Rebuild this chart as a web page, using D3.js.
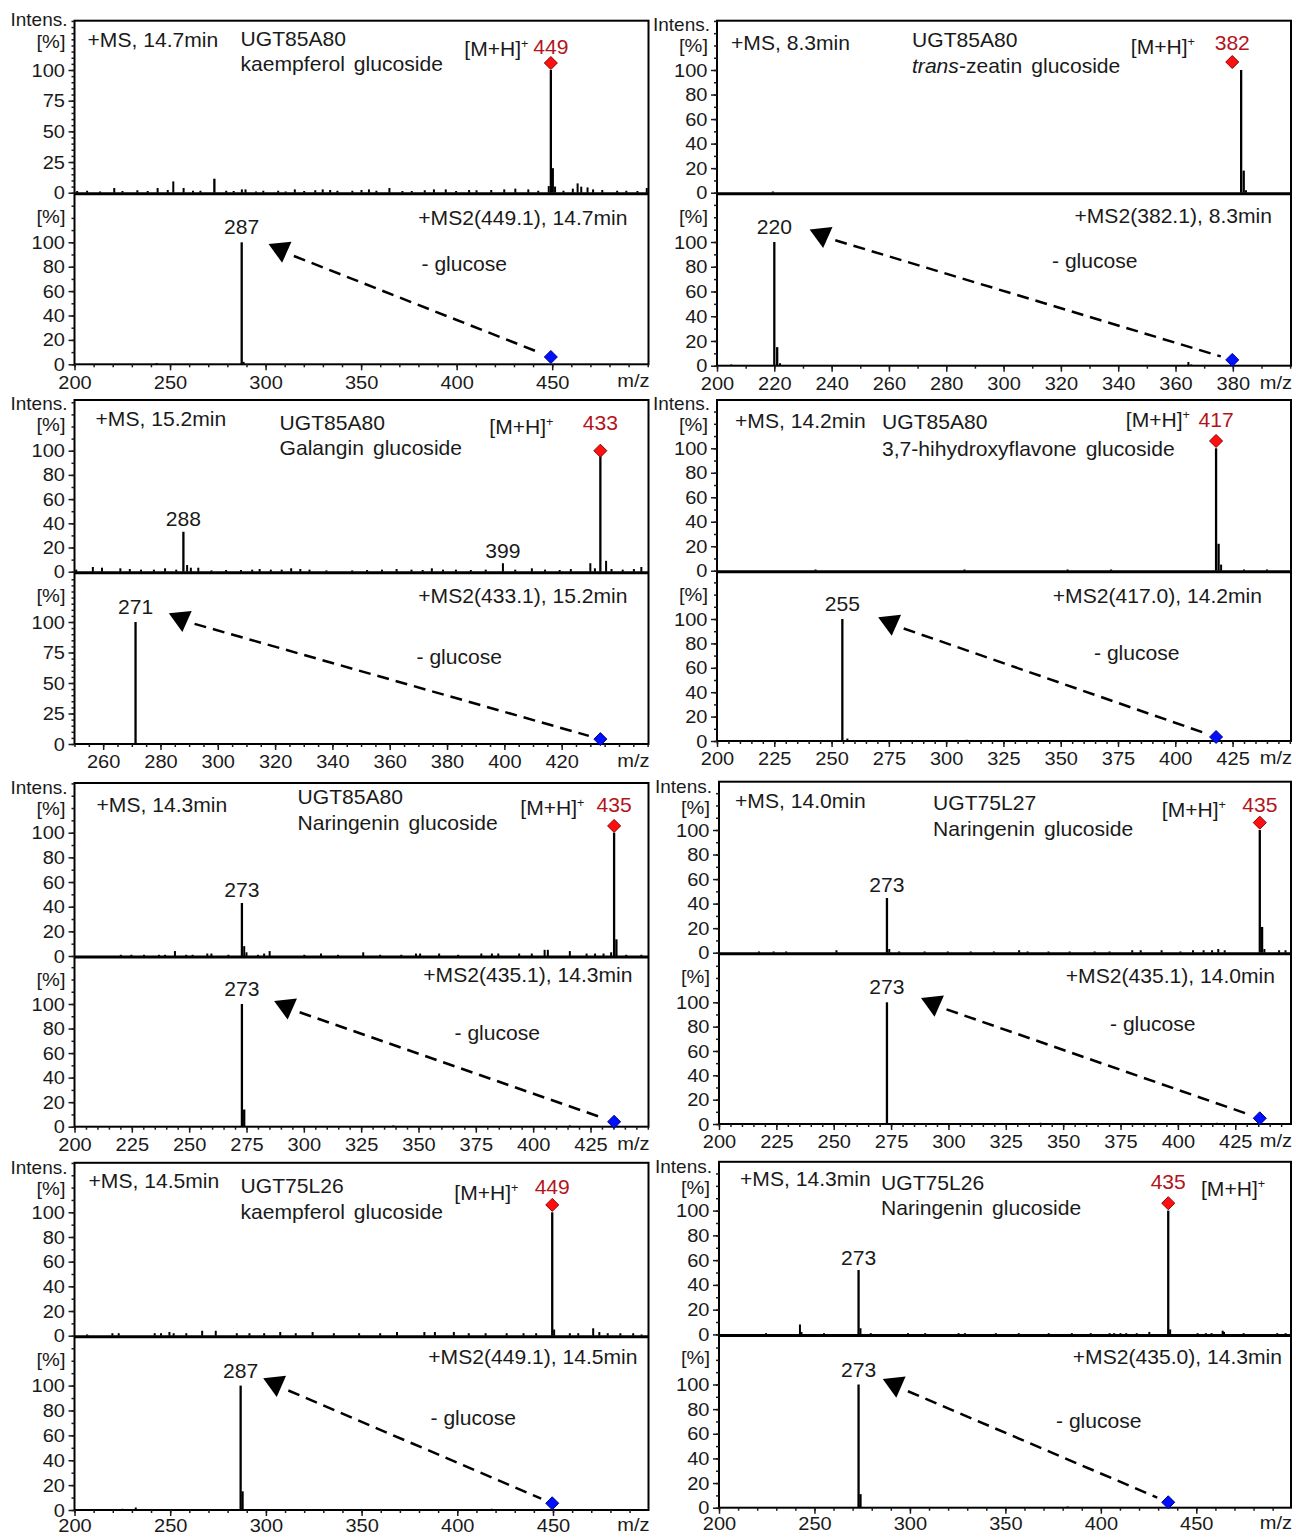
<!DOCTYPE html>
<html>
<head>
<meta charset="utf-8">
<script src="https://cdn.jsdelivr.net/npm/d3@7"></script>
<style>
body { margin: 0; background: #fff; }
text { font-family: "Liberation Sans", Arial, sans-serif; fill: #1a1a1a; }
</style>
</head>
<body>
<script>
// ---- data ----
// order: A kaempferol(85A80), B zeatin, C galangin, D 3,7-diOH-flavone,
//        E naringenin(85A80), F naringenin(75L27), G kaempferol(75L26), H naringenin(75L26)

var scanTitles = ["+MS, 14.7min", "+MS, 8.3min", "+MS, 15.2min", "+MS, 14.2min",
                  "+MS, 14.3min", "+MS, 14.0min", "+MS, 14.5min", "+MS, 14.3min"];
var enzymes = ["UGT85A80", "UGT85A80", "UGT85A80", "UGT85A80",
               "UGT85A80", "UGT75L27", "UGT75L26", "UGT75L26"];
var products = ["kaempferol glucoside", "trans-zeatin glucoside", "Galangin glucoside",
                "3,7-hihydroxyflavone glucoside", "Naringenin glucoside", "Naringenin glucoside",
                "kaempferol glucoside", "Naringenin glucoside"];
var ms2Titles = ["+MS2(449.1), 14.7min", "+MS2(382.1), 8.3min", "+MS2(433.1), 15.2min",
                 "+MS2(417.0), 14.2min", "+MS2(435.1), 14.3min", "+MS2(435.1), 14.0min",
                 "+MS2(449.1), 14.5min", "+MS2(435.0), 14.3min"];
var precursorLabels = ["449", "382", "433", "417", "435", "435", "449", "435"];
var fragmentLabels = ["287", "220", "271", "255", "273", "273", "287", "273"];
var lossLabel = "- glucose";

var xDomains = [[200, 500.4], [200, 400.3], [250, 450.3], [200, 450.5],
                [200, 450.3], [200, 449.3], [200, 499.9], [200, 499.6]];
var xTickLabels = [
  [200, 250, 300, 350, 400, 450],
  [200, 220, 240, 260, 280, 300, 320, 340, 360, 380],
  [260, 280, 300, 320, 340, 360, 380, 400, 420],
  [200, 225, 250, 275, 300, 325, 350, 375, 400, 425],
  [200, 225, 250, 275, 300, 325, 350, 375, 400, 425],
  [200, 225, 250, 275, 300, 325, 350, 375, 400, 425],
  [200, 250, 300, 350, 400, 450],
  [200, 250, 300, 350, 400, 450]
];
var xMinorStep = [10, 10, 5, 5, 5, 5, 10, 10];
var msYTicks = [
  [0, 25, 50, 75, 100], [0, 20, 40, 60, 80, 100], [0, 20, 40, 60, 80, 100], [0, 20, 40, 60, 80, 100],
  [0, 20, 40, 60, 80, 100], [0, 20, 40, 60, 80, 100], [0, 20, 40, 60, 80, 100], [0, 20, 40, 60, 80, 100]
];
var ms2YTicks = [
  [0, 20, 40, 60, 80, 100], [0, 20, 40, 60, 80, 100], [0, 25, 50, 75, 100], [0, 20, 40, 60, 80, 100],
  [0, 20, 40, 60, 80, 100], [0, 20, 40, 60, 80, 100], [0, 20, 40, 60, 80, 100], [0, 20, 40, 60, 80, 100]
];
var msYMinor = [5, 10, 10, 10, 10, 10, 10, 10];
var ms2YMinor = [10, 10, 5, 10, 10, 10, 10, 10];

// [m/z, relative intensity %]
var msPeaksA = [[201.4,1.4],[206.6,1.6],[213.4,1],[220.8,3.8],[225.1,1.4],[232.9,2],[238.3,1.4],[243.5,3.8],
  [248.8,2.2],[251.7,9.2],[257.1,3.8],[262,1.6],[265.9,1.6],[273.2,11.4],[279.4,1.6],[283.3,1.4],[287.6,2.7],
  [289.5,2.7],[295,1],[298.8,1.6],[306.6,1.6],[310.5,1],[315.3,2.7],[320.2,1.4],[326,2],[329.9,2.7],[333.8,2.2],
  [337.6,1.6],[345.4,1.6],[350.2,2.2],[354.1,2.7],[358,1.6],[364.8,3.8],[371.6,1.4],[376.5,1.4],[383.3,2],
  [388.1,2.7],[394.3,2.7],[399.7,1.4],[406.5,2.2],[410.4,2],[418.1,2.2],[424.9,2.7],[430.7,3.3],[437.5,2.7],
  [442.7,1.6],[448.2,5.4],[449.3,100],[450.3,20],[451.5,5],[455.9,1.6],[460.8,3.3],[463.3,7.6],[465.2,4.9],
  [468.5,4.3],[471.4,2.7],[476.2,2.2],[484,1.6],[488.8,1.6],[494.6,1.4],[499.5,3.8]];
var ms2PeaksA = [[243,1],[287.5,100],[288.5,2]];

var msPeaksB = [[219.5,1],[382.9,100],[383.8,18],[384.6,2]];
var ms2PeaksB = [[205,1],[220,100],[221,15],[222,2],[364.5,3],[365.5,1]];

var msPeaksC = [[250.6,1.7],[256.4,3.9],[259.6,3.3],[266,2.8],[269.3,2.2],[273.2,1.7],[277.7,1.7],[281.6,2.8],
  [285.5,1.7],[288,33],[289.3,5.5],[290.6,3.3],[293.2,3.3],[297.8,1.1],[302.9,1.4],[308.1,1.4],[312,1.7],
  [314.6,2.2],[318.5,1.7],[322.3,1.7],[325.6,2.8],[328.8,2.2],[332,1.7],[337.9,1.1],[346.9,1.1],[352.1,1.4],
  [357.3,1.7],[362.4,2.2],[367.6,1.7],[371.5,1.4],[374.7,2.8],[378.6,1.7],[383.1,1.7],[388.3,1.4],[393.5,1.7],
  [399.5,7],[403.8,1.7],[409.6,2.8],[414.2,1.7],[419.3,1.4],[423.2,2.2],[430,7],[431.6,2.8],[433.5,100],
  [435.5,9],[437.4,2.2],[441.3,1.7],[445.2,2.2],[447.8,3.9]];
var ms2PeaksC = [[271.3,100]];

var msPeaksD = [[243,1],[308,1],[353,1],[372,1],[417.8,100],[418.9,22],[420,5],[430,1],[440,1]];
var ms2PeaksD = [[254.7,100],[256.9,2],[309,1]];

var msPeaksE = [[220.2,1],[224.8,1],[230.3,1],[236.8,1],[239.5,1],[243.8,4],[248.7,1],[251.5,1],[257.9,2],
  [259.7,2],[267.1,1],[273,43],[274,8],[275,3],[280,1],[282.7,2],[285.1,4],[300.2,1],[307.5,2],[314.9,1],
  [325.9,3],[333.3,1],[342.5,1],[348.9,2],[350.7,2],[359,2],[367.3,1],[377.4,2],[382,2],[384.8,2],[393.9,2],
  [399.4,2],[405,5],[406.4,5],[416,4],[423.3,2],[427,2],[430.7,2],[434,3],[435.3,100],[436.3,13.5],
  [440.6,1],[447.2,1]];
var ms2PeaksE = [[273,100],[274,14],[339,1],[416,1]];

var msPeaksF = [[217.4,1],[223.8,1],[229.3,1],[251.2,2],[273.2,44.6],[274.2,3],[278.5,1],[289.6,1],[299.7,1],
  [309.7,1],[319.8,1],[330.8,2],[334.5,1],[343.6,1],[352.8,1],[363.7,1],[370.2,1],[380.1,2],[383.8,2],
  [392.9,2],[401.1,1],[406.6,2],[411.2,2],[414.9,2],[417.6,3],[420.4,2],[435.7,100],[436.7,21],[437.7,3],
  [444.1,2],[446.9,2]];
var ms2PeaksF = [[273.2,100],[340,1],[417,1]];

var msPeaksG = [[206.6,1],[219.8,2],[223.1,2],[241.9,2],[245.2,2],[249.6,3],[251.8,2],[258.4,2],[266.7,4],
  [273.8,4],[284.8,2],[291.4,2],[299.1,2],[307.5,3],[315.6,2],[324.4,3],[335.5,2],[348.7,2],[359.7,2],
  [368.5,3],[382.8,3],[388.3,3],[398.2,3],[406,2],[414.8,2],[425.8,2],[434.6,2],[441.2,2],[449.6,100],
  [450.6,5],[458.8,2],[463.2,2],[471,6],[474.2,3],[478.6,2],[485.2,2],[491.9,2],[496.3,1]];
var ms2PeaksG = [[225,1],[232,2],[286.8,100],[287.8,15],[418,1]];

var msPeaksH = [[224.6,1],[242.4,8],[243.2,2],[255,1],[273.1,52],[274.1,5],[279.5,1],[299,1],[308,1],
  [325.5,1],[328.8,1],[345,1],[357,1],[372.7,1],[384.8,1],[394.7,1],[404.6,1],[407,1],[410.3,1],[413.3,1],
  [418.8,1],[425.4,2],[435.3,100],[436.3,4],[450.7,1],[455,1],[458,1],[463.8,3],[464.5,2],[474.8,1],
  [492.4,1],[496.8,1]];
var ms2PeaksH = [[273.1,100],[274.1,11],[382.6,1]];

var msPeaks = [msPeaksA, msPeaksB, msPeaksC, msPeaksD, msPeaksE, msPeaksF, msPeaksG, msPeaksH];
var ms2Peaks = [ms2PeaksA, ms2PeaksB, ms2PeaksC, ms2PeaksD, ms2PeaksE, ms2PeaksF, ms2PeaksG, ms2PeaksH];

// labelled MS peaks (besides the precursor)
var msPeakLabels = [[], [], [288, 399], [], [273], [273], [], [273]];

// precursor markers: m/z, red diamond height (MS), blue diamond height (MS2)
var precursorMz = [449.3, 379.8, 433.5, 417.8, 435.3, 435.7, 449.6, 435.3];
var redMarkInt = [105.7, 106.5, 100, 106, 105.5, 106, 106, 106];
var blueMarkInt = [6, 4.7, 4, 3.3, 4, 4.7, 5.4, 4.4];
// arrow head (triangle) centre in the MS2 plot
var arrowHeadMz = [308, 236.6, 287.2, 275.7, 292.4, 293.4, 305, 292.2];
var arrowHeadInt = [93, 104.7, 101.6, 96, 97, 98, 100.5, 99];

// ---- layout (pixels) ----
var boxes = [
  {x0:74.5, x1:648.5, top:20.7,  msZero:192.7,  ms100:70,     ms2Zero:364.3,  ms2100:242.3,  intensDy:5,  pctDy:27, xPad:5},
  {x0:717,  x1:1291,  top:20.7,  msZero:192.7,  ms100:70,     ms2Zero:365.7,  ms2100:242,    intensDy:10, pctDy:31, xPad:5},
  {x0:74.5, x1:648.5, top:400,   msZero:571.7,  ms100:450.7,  ms2Zero:744,    ms2100:622,    intensDy:10, pctDy:31, xPad:5},
  {x0:717,  x1:1291,  top:400,   msZero:570.7,  ms100:448.3,  ms2Zero:741,    ms2100:619,    intensDy:10, pctDy:31, xPad:5},
  {x0:74.5, x1:648.5, top:783,   msZero:956,    ms100:832.7,  ms2Zero:1126.7, ms2100:1004,   intensDy:11, pctDy:32, xPad:5},
  {x0:719,  x1:1291,  top:781.7, msZero:952.7,  ms100:830,    ms2Zero:1124,   ms2100:1002.3, intensDy:11, pctDy:32, xPad:5},
  {x0:74.5, x1:648.5, top:1162.8,msZero:1335.7, ms100:1212.3, ms2Zero:1510,   ms2100:1385.6, intensDy:11, pctDy:32, xPad:2.5},
  {x0:719,  x1:1291,  top:1161.8,msZero:1334.4, ms100:1210.6, ms2Zero:1507.7, ms2100:1384.5, intensDy:11, pctDy:32, xPad:3}
];
// text anchors, offsets from box left / box top
var textPos = [
  {scan:[13,26.3], enz:[166,25.3], prod:[166,50.3], mh:[454,35.3,"end"],   prec:33.3, ms2:[553,204.3], loss:[347,250.3]},
  {scan:[14,29.3], enz:[195,26.3], prod:[195,52.3], mh:[478,33.3,"end"],   prec:29.3, ms2:[555,202.3], loss:[335,247.3]},
  {scan:[21,26],   enz:[205,30],   prod:[205,55],   mh:[479,34,"end"],     prec:30,   ms2:[553,203],   loss:[342,264]},
  {scan:[18,27.5], enz:[165,29],   prod:[165,56],   mh:[473,27,"end"],     prec:27,   ms2:[545,203],   loss:[377,260]},
  {scan:[22,29],   enz:[223,21],   prod:[223,47],   mh:[510,32,"end"],     prec:29,   ms2:[558,199],   loss:[380,257]},
  {scan:[16,26.3], enz:[214,28.3], prod:[214,54.3], mh:[507,35.3,"end"],   prec:30.3, ms2:[556,201.3], loss:[391,249.3]},
  {scan:[14,25.2], enz:[166,30.2], prod:[166,56.2], mh:[444,37.2,"end"],   prec:31.2, ms2:[563,201.2], loss:[356,262.2]},
  {scan:[21,24.2], enz:[162,28.2], prod:[162,53.2], mh:[482,34.2,"start"], prec:27.2, ms2:[563,202.2], loss:[337,266.2]}
];

var ink = "#1a1a1a";
var redText = "#b3141c";
var stretch = 1.055;   // the original figure is slightly widened

var svg = d3.select("body").append("svg")
  .attr("width", 1296).attr("height", 1537);

function styleAxis(a, size) {
  a.attr("font-family", null).attr("font-size", null);
  a.select(".domain").remove();
  a.selectAll(".tick line").attr("stroke", ink).attr("stroke-width", 1.5);
  a.selectAll("text").style("font-size", size + "px").attr("fill", ink)
    .attr("transform", "scale(" + stretch + ",1)");
}

function yAxis(g, y, ticks, minor, x0, yTop) {
  var maxV = y.invert(yTop);
  g.append("g").attr("transform", "translate(" + x0 + ",0)")
    .call(d3.axisLeft(y).tickValues(d3.range(0, maxV, minor)).tickSize(3).tickFormat(""))
    .call(function(a) { styleAxis(a, 19); });
  g.append("g").attr("transform", "translate(" + x0 + ",0)")
    .call(d3.axisLeft(y).tickValues(ticks).tickSize(6).tickPadding(3))
    .call(function(a) { styleAxis(a, 19); });
}

function addText(g, x, y, s, anchor, size, color) {
  return g.append("text")
    .attr("transform", "translate(" + x + "," + y + ") scale(" + stretch + ",1)")
    .attr("text-anchor", anchor || "start")
    .style("font-size", (size || 20) + "px")
    .style("fill", color || ink)
    .text(s);
}

function diamond(g, cx, cy, r, fill, stroke) {
  g.append("path")
    .attr("d", "M0," + (-r) + "L" + r + ",0L0," + r + "L" + (-r) + ",0Z")
    .attr("transform", "translate(" + cx + "," + cy + ")")
    .attr("fill", fill).attr("stroke", stroke).attr("stroke-width", 1);
}

function drawPeaks(g, data, x, y) {
  g.selectAll(null).data(data).join("line")
    .attr("x1", function(d) { return x(d[0]); })
    .attr("x2", function(d) { return x(d[0]); })
    .attr("y1", y(0))
    .attr("y2", function(d) { return y(d[1]); })
    .attr("stroke", "#000")
    .attr("stroke-width", function(d) { return d[1] >= 10 ? 2.3 : 2; });
}

function drawPanel(i) {
  var b = boxes[i], t = textPos[i];
  var g = svg.append("g");
  var x = d3.scaleLinear().domain(xDomains[i]).range([b.x0, b.x1]);
  var yMs = d3.scaleLinear().domain([0, 100]).range([b.msZero, b.ms100]);
  var yMs2 = d3.scaleLinear().domain([0, 100]).range([b.ms2Zero, b.ms2100]);

  drawPeaks(g, msPeaks[i], x, yMs);
  drawPeaks(g, ms2Peaks[i], x, yMs2);

  // frame + divider
  g.append("rect").attr("x", b.x0).attr("y", b.top)
    .attr("width", b.x1 - b.x0).attr("height", b.ms2Zero - b.top)
    .attr("fill", "none").attr("stroke", "#000").attr("stroke-width", 2);
  g.append("line").attr("x1", b.x0).attr("x2", b.x1)
    .attr("y1", b.msZero + 1).attr("y2", b.msZero + 1)
    .attr("stroke", "#000").attr("stroke-width", 3);

  // axes
  yAxis(g, yMs, msYTicks[i], msYMinor[i], b.x0, b.top);
  yAxis(g, yMs2, ms2YTicks[i], ms2YMinor[i], b.x0, b.msZero + 2);

  var xd = xDomains[i];
  g.append("g").attr("transform", "translate(0," + b.ms2Zero + ")")
    .call(d3.axisBottom(x).tickValues(d3.range(xd[0], xd[1] + 0.01, xMinorStep[i])).tickSize(3).tickFormat(""))
    .call(function(a) { styleAxis(a, 19); });
  g.append("g").attr("transform", "translate(0," + b.ms2Zero + ")")
    .call(d3.axisBottom(x).tickValues(xTickLabels[i]).tickSize(6).tickPadding(b.xPad))
    .call(function(a) { styleAxis(a, 19); });
  addText(g, b.x1 + 1, b.ms2Zero + 18 + b.xPad, "m/z", "end", 19);

  addText(g, b.x0 - 7, b.top + b.intensDy, "Intens.", "end", 18);
  addText(g, b.x0 - 9, b.top + b.pctDy, "[%]", "end", 19);
  addText(g, b.x0 - 9, b.msZero + 30, "[%]", "end", 19);

  // header texts
  addText(g, b.x0 + t.scan[0], b.top + t.scan[1], scanTitles[i]);
  addText(g, b.x0 + t.enz[0], b.top + t.enz[1], enzymes[i]);
  var prod = g.append("text")
    .attr("transform", "translate(" + (b.x0 + t.prod[0]) + "," + (b.top + t.prod[1]) + ") scale(" + stretch + ",1)")
    .style("font-size", "20px").style("word-spacing", "3px");
  if (products[i].indexOf("trans-") === 0) {
    prod.append("tspan").style("font-style", "italic").text("trans");
    prod.append("tspan").text(products[i].slice(5));
  } else {
    prod.text(products[i]);
  }
  var mh = g.append("text")
    .attr("transform", "translate(" + (b.x0 + t.mh[0]) + "," + (b.top + t.mh[1]) + ") scale(" + stretch + ",1)")
    .attr("text-anchor", t.mh[2]).style("font-size", "20px");
  mh.append("tspan").text("[M+H]");
  mh.append("tspan").attr("dy", -8).style("font-size", "12px").text("+");

  // precursor
  var px = x(precursorMz[i]);
  addText(g, px, b.top + t.prec, precursorLabels[i], "middle", 20, redText);
  diamond(g, px, yMs(redMarkInt[i]), 6.5, "#ff1010", "#8a0000");

  // labelled MS peaks
  msPeakLabels[i].forEach(function(m) {
    var p = msPeaks[i].filter(function(d) { return Math.abs(d[0] - m) < 1; })
      .sort(function(a, c) { return c[1] - a[1]; })[0];
    addText(g, x(p[0]), yMs(p[1]) - 5.5, String(m), "middle", 20);
  });

  // fragment label
  var top2 = ms2Peaks[i].slice().sort(function(a, c) { return c[1] - a[1]; })[0];
  addText(g, x(top2[0]), yMs2(top2[1]) - 8, fragmentLabels[i], "middle", 20);

  addText(g, b.x0 + t.ms2[0], b.top + t.ms2[1], ms2Titles[i], "end", 20);
  addText(g, b.x0 + t.loss[0], b.top + t.loss[1], lossLabel, "start", 20);

  // neutral-loss arrow
  var hx = x(arrowHeadMz[i]), hy = yMs2(arrowHeadInt[i]);
  var bx = px, by = yMs2(blueMarkInt[i]);
  var dx = bx - hx, dy = by - hy, len = Math.sqrt(dx * dx + dy * dy);
  g.append("line")
    .attr("x1", hx + dx / len * 14).attr("y1", hy + dy / len * 14)
    .attr("x2", bx - dx / len * 12).attr("y2", by - dy / len * 12)
    .attr("stroke", "#000").attr("stroke-width", 2.5).attr("stroke-dasharray", "12,7");
  g.append("path")
    .attr("d", "M-11.5,-8L11.5,-8L0,12Z")
    .attr("transform", "translate(" + hx + "," + hy + ") rotate(-6)")
    .attr("fill", "#000");
  diamond(g, bx, by, 6.5, "#0010ff", "#00008a");
}

for (var i = 0; i < 8; i++) drawPanel(i);
</script>
</body>
</html>
